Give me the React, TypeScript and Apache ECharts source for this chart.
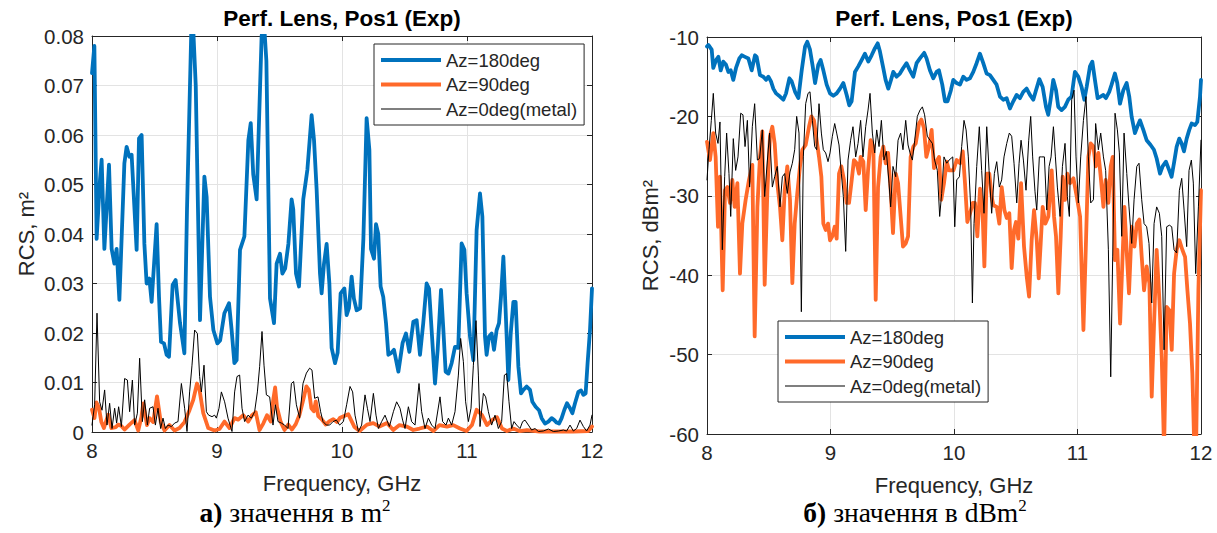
import React, { useEffect, useRef } from "react";
import * as echarts from "echarts";

const NAMES = ["Az=180deg", "Az=90deg", "Az=0deg(metal)"];
const COLORS = ["#0072BD", "#FF6A2A", "#000000"];
const WIDTHS = [3.8, 3.8, 1];
const LEGEND_ICONS = ["path://M0,0H60V4H0Z", "path://M0,0H60V4H0Z", "path://M0,0H60V1H0Z"];

const TITLE = "Perf. Lens, Pos1 (Exp)";
const X_NAME = "Frequency, GHz";
const Y_NAME_LIN = "RCS, m²";
const Y_NAME_DB = "RCS, dBm²";

// ---- linear (m^2) ----
const linBlue: [number, number][] = [
  [8.000,0.0725],[8.019,0.078],[8.037,0.039],[8.064,0.051],[8.077,0.055],[8.099,0.037],[8.136,0.054],[8.157,0.037],[8.179,0.034],[8.197,0.037],[8.219,0.0267],[8.259,0.0543],[8.277,0.0576],[8.299,0.0556],[8.317,0.056],[8.357,0.0368],[8.376,0.0593],[8.397,0.060],[8.419,0.038],[8.437,0.030],[8.459,0.031],[8.477,0.0263],[8.517,0.042],[8.536,0.0273],[8.552,0.0182],[8.576,0.0179],[8.597,0.0156],[8.616,0.0152],[8.645,0.0297],[8.669,0.0307],[8.704,0.022],[8.739,0.0159],[8.760,0.045],[8.800,0.087],[8.830,0.070],[8.864,0.0226],[8.899,0.0516],[8.917,0.0475],[8.944,0.0273],[8.971,0.0206],[9.003,0.0179],[9.025,0.0185],[9.059,0.024],[9.096,0.026],[9.117,0.0206],[9.139,0.0139],[9.157,0.0145],[9.184,0.0368],[9.219,0.0395],[9.251,0.059],[9.270,0.0624],[9.290,0.052],[9.317,0.047],[9.357,0.080],[9.375,0.083],[9.395,0.075],[9.424,0.027],[9.456,0.022],[9.477,0.034],[9.504,0.036],[9.523,0.032],[9.545,0.033],[9.571,0.038],[9.597,0.047],[9.610,0.045],[9.632,0.032],[9.656,0.0294],[9.690,0.047],[9.723,0.053],[9.757,0.064],[9.776,0.059],[9.797,0.049],[9.824,0.032],[9.837,0.028],[9.856,0.034],[9.877,0.038],[9.899,0.030],[9.917,0.017],[9.944,0.0139],[9.965,0.016],[9.989,0.028],[10.019,0.029],[10.037,0.0236],[10.055,0.025],[10.077,0.0314],[10.095,0.027],[10.117,0.0246],[10.145,0.025],[10.171,0.039],[10.197,0.0634],[10.219,0.057],[10.232,0.037],[10.256,0.035],[10.272,0.042],[10.290,0.040],[10.309,0.0294],[10.330,0.0273],[10.352,0.022],[10.371,0.0156],[10.395,0.016],[10.416,0.0166],[10.451,0.0122],[10.485,0.018],[10.512,0.0199],[10.539,0.0162],[10.571,0.0223],[10.597,0.0226],[10.624,0.0156],[10.650,0.022],[10.677,0.030],[10.696,0.029],[10.717,0.0206],[10.744,0.0098],[10.765,0.0165],[10.792,0.0287],[10.811,0.0206],[10.829,0.0122],[10.851,0.0118],[10.877,0.0139],[10.904,0.0172],[10.930,0.017],[10.957,0.0381],[10.979,0.0368],[10.997,0.028],[11.024,0.0193],[11.051,0.0145],[11.077,0.0408],[11.104,0.0482],[11.123,0.0435],[11.144,0.0193],[11.157,0.0156],[11.176,0.0193],[11.197,0.0199],[11.216,0.0166],[11.237,0.0206],[11.256,0.022],[11.272,0.0273],[11.291,0.0354],[11.309,0.0246],[11.331,0.0105],[11.350,0.020],[11.371,0.0263],[11.389,0.0263],[11.411,0.0132],[11.432,0.0078],[11.451,0.0085],[11.477,0.0092],[11.504,0.0085],[11.523,0.0061],[11.549,0.0051],[11.576,0.0044],[11.597,0.0028],[11.624,0.0017],[11.651,0.0021],[11.677,0.0028],[11.698,0.0024],[11.717,0.0019],[11.736,0.0017],[11.757,0.0028],[11.779,0.0045],[11.800,0.0058],[11.824,0.0048],[11.843,0.0038],[11.864,0.0058],[11.891,0.0081],[11.912,0.0084],[11.931,0.0075],[11.949,0.0078],[11.965,0.014],[11.984,0.0206],[12.000,0.029]
];

const linOrange: [number, number][] = [
  [8.00,0.0045],[8.02,0.0028],[8.035,0.006],[8.055,0.005],[8.075,0.002],[8.095,0.0008],[8.13,0.0035],[8.155,0.0008],[8.19,0.001],[8.21,0.0015],[8.235,0.0012],[8.26,0.0005],[8.30,0.0015],[8.34,0.0024],[8.37,0.0003],[8.395,0.003],[8.41,0.0058],[8.44,0.0014],[8.46,0.0028],[8.49,0.002],[8.52,0.0072],[8.55,0.002],[8.58,0.0003],[8.62,0.0014],[8.66,0.0003],[8.70,0.0008],[8.74,0.002],[8.78,0.0044],[8.81,0.0065],[8.84,0.0098],[8.86,0.0085],[8.89,0.0038],[8.93,0.0008],[8.98,0.0003],[9.02,0.0006],[9.06,0.0021],[9.10,0.0008],[9.14,0.0028],[9.17,0.0025],[9.21,0.0034],[9.25,0.0021],[9.28,0.0034],[9.31,0.004],[9.34,0.0004],[9.37,0.0017],[9.40,0.0034],[9.43,0.0021],[9.45,0.0065],[9.465,0.009],[9.48,0.005],[9.51,0.002],[9.54,0.0004],[9.57,0.0015],[9.60,0.0005],[9.63,0.0016],[9.66,0.0035],[9.69,0.0065],[9.715,0.0092],[9.735,0.0085],[9.755,0.0048],[9.775,0.0042],[9.79,0.0062],[9.81,0.0032],[9.84,0.0025],[9.87,0.0015],[9.90,0.0022],[9.93,0.0026],[9.96,0.002],[9.985,0.0029],[10.05,0.0036],[10.10,0.001],[10.14,0.0002],[10.20,0.0015],[10.25,0.0018],[10.30,0.0011],[10.36,0.0018],[10.41,0.0004],[10.46,0.0014],[10.52,0.0011],[10.57,0.0004],[10.62,0.0007],[10.68,0.0011],[10.73,0.0002],[10.78,0.0014],[10.84,0.0011],[10.89,0.0014],[10.944,0.0007],[10.996,0.0002],[11.04,0.0014],[11.077,0.0045],[11.12,0.0034],[11.16,0.0014],[11.20,0.0024],[11.24,0.003],[11.28,0.0007],[11.32,0.0002],[11.37,0.0007],[11.42,0.0002],[11.48,0.0004],[11.58,0.0001],[11.72,0.0001],[11.85,0.0001],[11.97,0.0002],[12.0,0.0011]
];

const linBlack: [number, number][] = [
  [8.000,0.0014],[8.021,0.0055],[8.040,0.024],[8.061,0.0061],[8.080,0.0044],[8.101,0.0085],[8.120,0.0014],[8.141,0.0058],[8.160,0.0007],[8.181,0.0048],[8.197,0.0018],[8.213,0.0051],[8.235,0.0011],[8.261,0.0108],[8.283,0.0105],[8.301,0.0041],[8.323,0.0105],[8.341,0.0014],[8.363,0.0038],[8.381,0.0149],[8.403,0.0021],[8.421,0.0065],[8.443,0.0014],[8.461,0.0048],[8.488,0.0051],[8.507,0.0014],[8.528,0.0048],[8.549,0.0007],[8.568,0.0028],[8.587,0.0007],[8.608,0.0014],[8.635,0.0011],[8.661,0.0018],[8.688,0.0021],[8.715,0.0098],[8.741,0.0048],[8.760,0.0001],[8.781,0.0081],[8.800,0.0135],[8.821,0.0206],[8.843,0.0199],[8.861,0.0112],[8.875,0.0081],[8.896,0.0135],[8.915,0.0041],[8.933,0.0034],[8.960,0.0031],[8.981,0.0034],[8.995,0.0028],[9.016,0.0048],[9.035,0.0081],[9.061,0.0061],[9.088,0.0028],[9.120,0.0001],[9.141,0.0081],[9.160,0.0112],[9.181,0.0115],[9.200,0.0048],[9.221,0.0021],[9.248,0.0034],[9.275,0.0028],[9.301,0.0041],[9.323,0.0081],[9.341,0.0132],[9.360,0.0203],[9.376,0.0135],[9.395,0.0075],[9.421,0.0071],[9.448,0.0014],[9.467,0.0055],[9.488,0.0021],[9.515,0.0018],[9.541,0.0014],[9.568,0.0007],[9.595,0.0098],[9.613,0.0102],[9.635,0.0055],[9.661,0.0028],[9.688,0.0098],[9.715,0.0119],[9.741,0.0129],[9.760,0.0125],[9.781,0.0068],[9.808,0.0071],[9.829,0.0041],[9.848,0.0021],[9.875,0.0014],[9.901,0.0014],[9.928,0.0021],[9.955,0.0024],[9.981,0.0014],[10.011,0.0021],[10.037,0.0055],[10.064,0.0092],[10.085,0.0081],[10.104,0.0034],[10.131,0.0001],[10.157,0.0014],[10.184,0.0075],[10.203,0.0048],[10.224,0.0021],[10.251,0.0078],[10.272,0.0034],[10.291,0.0007],[10.317,0.0021],[10.344,0.0034],[10.379,0.0011],[10.411,0.0041],[10.437,0.0061],[10.464,0.0048],[10.485,0.0024],[10.504,0.0007],[10.531,0.0051],[10.557,0.0021],[10.584,0.0014],[10.616,0.0098],[10.637,0.0041],[10.664,0.0007],[10.691,0.0028],[10.717,0.0014],[10.744,0.0007],[10.784,0.0071],[10.805,0.0021],[10.832,0.0014],[10.851,0.0028],[10.877,0.0014],[10.904,0.0041],[10.931,0.0115],[10.949,0.0189],[10.971,0.0142],[10.989,0.0061],[11.011,0.0021],[11.032,0.0048],[11.051,0.0135],[11.072,0.0225],[11.091,0.0115],[11.104,0.0011],[11.131,0.0078],[11.149,0.0071],[11.171,0.0041],[11.197,0.0014],[11.224,0.0034],[11.251,0.0007],[11.277,0.0021],[11.299,0.0115],[11.317,0.0118],[11.336,0.0061],[11.357,0.0007],[11.376,0.0021],[11.397,0.0014],[11.424,0.0007],[11.445,0.0021],[11.464,0.0024],[11.491,0.0014],[11.517,0.0004],[11.544,0.0007],[11.571,0.0001],[11.611,0.0002],[11.651,0.0006],[11.691,0.0001],[11.731,0.0002],[11.771,0.0004],[11.797,0.0002],[11.824,0.0014],[11.851,0.0002],[11.877,0.0007],[11.904,0.0024],[11.931,0.0011],[11.957,0.0002],[11.984,0.0014],[12.000,0.0034]
];

// ---- dB (dBm^2) ----
const dbBlue: [number, number][] = [
  [8.000,-11.2],[8.011,-11.0],[8.038,-11.6],[8.051,-13.9],[8.073,-12.9],[8.092,-12.5],[8.111,-14.2],[8.132,-13.1],[8.154,-13.5],[8.173,-14.4],[8.192,-14.2],[8.213,-15.4],[8.235,-13.9],[8.262,-12.7],[8.281,-12.3],[8.308,-12.5],[8.335,-12.7],[8.362,-14.2],[8.389,-12.3],[8.402,-12.5],[8.429,-14.8],[8.456,-15.0],[8.478,-15.4],[8.497,-15.0],[8.518,-15.6],[8.537,-16.5],[8.559,-17.1],[8.591,-17.5],[8.618,-17.9],[8.640,-17.1],[8.667,-15.2],[8.686,-15.6],[8.713,-16.9],[8.740,-17.7],[8.767,-14.2],[8.794,-11.2],[8.812,-10.6],[8.834,-11.6],[8.856,-13.7],[8.875,-15.8],[8.901,-13.5],[8.920,-12.9],[8.942,-14.2],[8.969,-16.0],[8.996,-17.1],[9.023,-17.4],[9.050,-17.1],[9.077,-16.5],[9.104,-15.8],[9.131,-17.3],[9.152,-18.6],[9.171,-18.1],[9.198,-14.4],[9.225,-13.7],[9.252,-12.9],[9.279,-12.1],[9.306,-13.1],[9.333,-12.3],[9.360,-11.4],[9.382,-10.8],[9.400,-11.8],[9.427,-13.9],[9.446,-15.4],[9.468,-16.5],[9.490,-15.4],[9.508,-14.4],[9.535,-15.0],[9.562,-14.6],[9.589,-13.9],[9.616,-13.3],[9.643,-14.2],[9.670,-15.0],[9.697,-13.3],[9.724,-12.7],[9.759,-12.0],[9.778,-12.7],[9.805,-14.2],[9.832,-15.2],[9.859,-14.4],[9.878,-14.2],[9.905,-16.0],[9.927,-18.1],[9.948,-18.1],[9.975,-16.7],[9.994,-15.4],[10.021,-15.8],[10.048,-16.0],[10.075,-15.0],[10.102,-15.4],[10.129,-15.2],[10.156,-14.4],[10.183,-13.3],[10.210,-12.1],[10.237,-13.3],[10.264,-14.6],[10.291,-14.8],[10.318,-15.4],[10.345,-16.0],[10.372,-17.5],[10.399,-17.9],[10.426,-17.7],[10.453,-19.0],[10.480,-18.1],[10.507,-17.3],[10.534,-17.7],[10.561,-16.9],[10.588,-16.5],[10.615,-17.3],[10.642,-17.9],[10.664,-16.7],[10.691,-15.3],[10.718,-16.3],[10.745,-18.8],[10.763,-19.8],[10.782,-17.9],[10.804,-15.4],[10.826,-16.7],[10.844,-18.8],[10.871,-19.2],[10.898,-18.8],[10.925,-17.9],[10.952,-17.5],[10.979,-14.4],[11.006,-15.0],[11.033,-16.3],[11.055,-17.9],[11.074,-16.3],[11.101,-13.7],[11.120,-13.1],[11.141,-15.4],[11.163,-17.7],[11.187,-17.5],[11.209,-17.3],[11.230,-17.7],[11.257,-16.9],[11.276,-16.0],[11.303,-14.6],[11.322,-15.8],[11.344,-18.4],[11.371,-16.7],[11.398,-15.8],[11.419,-17.5],[11.438,-20.0],[11.465,-22.1],[11.484,-21.3],[11.506,-20.5],[11.533,-21.7],[11.560,-23.0],[11.592,-23.6],[11.619,-24.2],[11.641,-25.3],[11.668,-27.2],[11.689,-26.3],[11.716,-25.7],[11.743,-26.8],[11.762,-27.6],[11.781,-25.9],[11.803,-23.8],[11.824,-22.8],[11.843,-23.4],[11.862,-24.4],[11.884,-22.8],[11.905,-21.7],[11.924,-20.9],[11.951,-21.1],[11.970,-20.7],[11.992,-17.5],[12.000,-15.4]
];

const dbOrange: [number, number][] = [
  [8.000,-23.2],[8.024,-25.5],[8.051,-22.1],[8.070,-25.1],[8.089,-33.9],[8.105,-27.6],[8.127,-41.9],[8.146,-29.3],[8.165,-28.9],[8.186,-30.9],[8.205,-28.0],[8.224,-31.4],[8.246,-28.4],[8.267,-39.8],[8.286,-33.5],[8.313,-30.5],[8.340,-28.0],[8.367,-26.1],[8.386,-47.7],[8.408,-31.4],[8.429,-25.1],[8.448,-21.9],[8.467,-41.2],[8.489,-29.3],[8.510,-22.5],[8.529,-21.3],[8.548,-23.4],[8.569,-28.4],[8.591,-31.4],[8.610,-35.6],[8.629,-29.3],[8.650,-26.3],[8.672,-30.5],[8.691,-41.0],[8.710,-33.5],[8.731,-29.7],[8.753,-26.3],[8.772,-24.2],[8.799,-23.6],[8.826,-21.3],[8.845,-20.0],[8.866,-20.5],[8.888,-23.0],[8.907,-25.1],[8.926,-27.6],[8.942,-33.5],[8.961,-34.3],[8.980,-33.5],[8.996,-35.6],[9.015,-35.1],[9.034,-33.9],[9.050,-35.4],[9.069,-27.2],[9.088,-26.3],[9.109,-28.0],[9.131,-30.9],[9.150,-30.9],[9.169,-28.4],[9.190,-25.5],[9.212,-25.9],[9.231,-27.2],[9.244,-25.1],[9.266,-25.7],[9.285,-31.8],[9.304,-26.8],[9.325,-23.0],[9.347,-23.8],[9.366,-43.1],[9.385,-28.9],[9.406,-25.1],[9.428,-23.8],[9.447,-25.9],[9.466,-24.6],[9.487,-29.3],[9.506,-34.7],[9.528,-27.2],[9.547,-28.4],[9.568,-32.6],[9.587,-36.4],[9.609,-36.0],[9.628,-35.1],[9.649,-25.1],[9.671,-23.8],[9.690,-23.4],[9.717,-20.9],[9.736,-20.4],[9.757,-21.5],[9.776,-25.1],[9.798,-23.8],[9.819,-21.7],[9.838,-26.5],[9.857,-25.7],[9.879,-25.1],[9.897,-30.5],[9.919,-28.4],[9.941,-25.7],[9.960,-26.8],[9.995,-26.8],[10.022,-25.5],[10.049,-25.9],[10.071,-24.4],[10.089,-28.4],[10.108,-33.3],[10.130,-32.2],[10.152,-30.9],[10.170,-30.9],[10.189,-35.1],[10.211,-29.1],[10.230,-31.4],[10.246,-38.9],[10.265,-27.2],[10.286,-27.2],[10.305,-30.1],[10.319,-31.2],[10.346,-31.4],[10.367,-33.5],[10.386,-28.9],[10.408,-31.8],[10.427,-32.8],[10.448,-32.2],[10.467,-39.1],[10.486,-34.3],[10.502,-33.3],[10.521,-35.4],[10.543,-28.4],[10.567,-36.4],[10.589,-40.2],[10.608,-42.7],[10.629,-35.6],[10.648,-31.8],[10.670,-35.6],[10.686,-40.4],[10.702,-36.0],[10.718,-31.4],[10.740,-33.5],[10.764,-32.6],[10.791,-26.8],[10.810,-32.6],[10.826,-35.1],[10.845,-42.3],[10.864,-35.1],[10.880,-27.6],[10.899,-30.5],[10.918,-27.2],[10.940,-28.4],[10.967,-27.8],[10.994,-30.1],[11.021,-32.6],[11.048,-46.9],[11.069,-35.6],[11.088,-25.1],[11.107,-23.4],[11.129,-23.8],[11.148,-26.3],[11.169,-24.6],[11.188,-27.6],[11.210,-31.4],[11.228,-28.0],[11.250,-30.9],[11.269,-26.3],[11.285,-25.1],[11.304,-38.1],[11.323,-36.8],[11.345,-46.1],[11.363,-38.5],[11.380,-31.4],[11.399,-37.2],[11.417,-42.3],[11.439,-33.9],[11.461,-36.4],[11.480,-33.5],[11.501,-33.0],[11.520,-37.7],[11.539,-41.9],[11.560,-38.9],[11.582,-41.0],[11.601,-55.3],[11.620,-46.1],[11.641,-36.8],[11.663,-43.1],[11.682,-50.3],[11.701,-62.0],[11.722,-44.0],[11.744,-44.4],[11.763,-49.4],[11.782,-39.8],[11.803,-36.8],[11.825,-35.6],[11.849,-36.8],[11.871,-37.7],[11.890,-41.9],[11.911,-46.1],[11.930,-52.4],[11.946,-62.0],[11.960,-62.0],[11.979,-41.9],[12.000,-29.3]
];

const dbBlack: [number, number][] = [
  [8.000,-28.0],[8.016,-24.2],[8.035,-20.5],[8.051,-17.1],[8.070,-22.1],[8.089,-23.4],[8.105,-20.7],[8.124,-36.8],[8.143,-27.6],[8.159,-22.1],[8.178,-27.2],[8.192,-32.6],[8.213,-22.8],[8.232,-26.8],[8.251,-25.1],[8.273,-19.6],[8.291,-19.8],[8.308,-23.8],[8.327,-20.5],[8.345,-28.9],[8.367,-21.3],[8.386,-18.4],[8.408,-25.5],[8.426,-25.3],[8.448,-21.7],[8.467,-30.1],[8.489,-25.5],[8.507,-22.1],[8.529,-28.9],[8.548,-27.6],[8.569,-26.3],[8.591,-31.4],[8.610,-27.6],[8.629,-27.2],[8.650,-29.7],[8.672,-27.0],[8.691,-25.9],[8.710,-24.2],[8.726,-20.0],[8.745,-22.1],[8.764,-44.6],[8.780,-25.1],[8.799,-18.4],[8.818,-17.1],[8.834,-16.9],[8.853,-20.5],[8.872,-23.8],[8.888,-24.2],[8.907,-18.4],[8.926,-22.1],[8.942,-24.2],[8.961,-24.6],[8.980,-25.7],[8.996,-24.6],[9.015,-22.5],[9.034,-20.9],[9.050,-22.1],[9.069,-23.6],[9.088,-27.2],[9.104,-30.1],[9.123,-37.0],[9.142,-25.5],[9.163,-23.0],[9.182,-21.3],[9.204,-25.1],[9.223,-23.4],[9.244,-20.5],[9.263,-25.1],[9.285,-21.3],[9.304,-19.2],[9.320,-17.1],[9.339,-22.1],[9.358,-24.6],[9.374,-21.7],[9.393,-23.8],[9.412,-20.5],[9.433,-25.5],[9.452,-24.4],[9.474,-28.4],[9.487,-31.4],[9.506,-26.3],[9.528,-27.6],[9.547,-23.0],[9.568,-22.1],[9.587,-24.2],[9.609,-20.5],[9.628,-23.6],[9.644,-24.6],[9.663,-25.5],[9.682,-23.0],[9.703,-20.0],[9.725,-19.2],[9.744,-18.8],[9.762,-19.8],[9.784,-22.5],[9.806,-23.0],[9.825,-23.4],[9.843,-25.5],[9.865,-26.8],[9.884,-32.6],[9.900,-29.7],[9.919,-25.1],[9.941,-25.9],[9.960,-25.5],[9.990,-25.1],[10.006,-33.9],[10.022,-28.0],[10.044,-27.6],[10.062,-23.8],[10.081,-20.5],[10.098,-21.7],[10.116,-25.1],[10.135,-31.4],[10.149,-43.5],[10.162,-33.5],[10.184,-26.3],[10.205,-21.3],[10.224,-26.8],[10.243,-32.2],[10.265,-21.3],[10.284,-26.8],[10.305,-32.2],[10.327,-27.2],[10.346,-25.7],[10.367,-28.9],[10.386,-28.0],[10.405,-25.1],[10.427,-23.4],[10.448,-22.1],[10.467,-22.5],[10.486,-25.9],[10.508,-30.9],[10.527,-25.9],[10.543,-23.0],[10.562,-25.5],[10.583,-29.3],[10.605,-23.0],[10.621,-20.0],[10.637,-25.1],[10.656,-29.5],[10.670,-31.8],[10.691,-25.1],[10.710,-25.1],[10.732,-25.1],[10.751,-31.8],[10.770,-26.3],[10.786,-25.1],[10.805,-21.3],[10.821,-25.1],[10.837,-28.9],[10.859,-32.6],[10.878,-26.3],[10.899,-23.4],[10.918,-30.1],[10.934,-32.6],[10.953,-17.9],[10.972,-16.7],[10.988,-25.1],[11.007,-30.9],[11.026,-25.1],[11.048,-20.5],[11.069,-17.5],[11.088,-25.1],[11.107,-30.9],[11.129,-30.5],[11.147,-20.9],[11.169,-24.2],[11.188,-22.1],[11.210,-25.1],[11.228,-26.8],[11.250,-36.8],[11.269,-52.8],[11.285,-37.7],[11.304,-19.6],[11.323,-21.7],[11.339,-24.6],[11.358,-35.1],[11.377,-22.1],[11.399,-27.2],[11.417,-31.4],[11.439,-36.0],[11.458,-30.5],[11.480,-26.3],[11.498,-25.9],[11.520,-30.5],[11.539,-33.5],[11.560,-33.9],[11.579,-36.0],[11.601,-43.5],[11.620,-33.5],[11.641,-31.4],[11.663,-32.2],[11.682,-35.1],[11.701,-49.4],[11.722,-33.9],[11.744,-33.7],[11.763,-33.9],[11.782,-36.8],[11.803,-37.2],[11.825,-29.3],[11.844,-27.8],[11.863,-31.8],[11.884,-36.4],[11.903,-26.8],[11.922,-25.5],[11.938,-28.4],[11.957,-39.8],[11.979,-31.4],[12.000,-23.0]
];

const SANS = "'Liberation Sans', Arial, Helvetica, sans-serif";
const SERIF = "'Liberation Serif', 'Times New Roman', serif";
const AX = "#262626";
const GRIDC = "#e3e3e3";
const TICK_FS = 20.5;
const NAME_FS = 22;
const TITLE_FS = 22.5;
const LEGEND_FS = 18.5;
const CAP_FS = 27.5;

function xAxes(gridIndex: number, withName: boolean) {
  const base = {
    gridIndex,
    type: "value",
    min: 8,
    max: 12,
    interval: 1,
    axisLine: { show: true, onZero: false, lineStyle: { color: AX, width: 1 } },
    axisTick: { show: true, inside: true, length: 5, lineStyle: { color: AX, width: 1 } },
  };
  return [
    {
      ...base,
      position: "bottom",
      axisLabel: { color: AX, fontSize: TICK_FS, fontFamily: SANS, margin: 8 },
      splitLine: { show: true, lineStyle: { color: GRIDC, width: 1 } },
      name: withName ? X_NAME : "",
      nameLocation: "middle",
      nameGap: 40,
      nameTextStyle: { color: AX, fontSize: NAME_FS, fontFamily: SANS },
    },
    {
      ...base,
      position: "top",
      axisLabel: { show: false },
      splitLine: { show: false },
    },
  ];
}

function yAxes(gridIndex: number, min: number, max: number, interval: number, name: string, gap: number, fmt: (v: number) => string) {
  const base = {
    gridIndex,
    type: "value",
    min,
    max,
    interval,
    axisLine: { show: true, onZero: false, lineStyle: { color: AX, width: 1 } },
    axisTick: { show: true, inside: true, length: 5, lineStyle: { color: AX, width: 1 } },
  };
  return [
    {
      ...base,
      position: "left",
      axisLabel: { color: AX, fontSize: TICK_FS, fontFamily: SANS, margin: 8, formatter: fmt },
      splitLine: { show: true, lineStyle: { color: GRIDC, width: 1 } },
      name,
      nameLocation: "middle",
      nameGap: gap,
      nameTextStyle: { color: AX, fontSize: NAME_FS, fontFamily: SANS },
    },
    {
      ...base,
      position: "right",
      axisLabel: { show: false },
      splitLine: { show: false },
    },
  ];
}

function lineSeries(data: [number, number][], idx: number, xi: number, yi: number) {
  return {
    type: "line",
    name: NAMES[idx],
    data,
    xAxisIndex: xi,
    yAxisIndex: yi,
    symbol: "none",
    showSymbol: false,
    clip: true,
    color: COLORS[idx],
    lineStyle: { color: COLORS[idx], width: WIDTHS[idx], join: "round", cap: "round" },
    emphasis: { disabled: true },
    z: 2 + idx,
  };
}

function legendAt(left: number, top: number) {
  return {
    data: NAMES.map((n, i) => ({ name: n, icon: LEGEND_ICONS[i] })),
    orient: "vertical",
    left,
    top,
    itemWidth: 60,
    itemHeight: 14,
    itemGap: 4.5,
    symbolKeepAspect: true,
    padding: [6, 7, 6, 7],
    backgroundColor: "#ffffff",
    borderColor: AX,
    borderWidth: 1,
    borderRadius: 0,
    selectedMode: false,
    itemStyle: { borderWidth: 0 },
    textStyle: { color: AX, fontSize: LEGEND_FS, fontFamily: SANS, lineHeight: 20 },
    z: 10,
  };
}

function caption(x: number, label: string, rest: string) {
  return {
    type: "text",
    x,
    y: 512,
    style: {
      text: `{b|${label}}{r| ${rest}}{s|2}`,
      align: "center",
      verticalAlign: "middle",
      fill: "#000",
      rich: {
        b: { fontFamily: SERIF, fontSize: CAP_FS, fontWeight: "bold", fill: "#000", lineHeight: 30 },
        r: { fontFamily: SERIF, fontSize: CAP_FS, fill: "#000", lineHeight: 30 },
        s: { fontFamily: SERIF, fontSize: 17, fill: "#000", verticalAlign: "top", lineHeight: 30 },
      },
    },
  };
}

function titleAt(x: number) {
  return {
    type: "text",
    x,
    y: 18,
    style: { text: TITLE, fill: "#000", fontSize: TITLE_FS, fontWeight: "bold", fontFamily: SANS, align: "center", verticalAlign: "middle" },
  };
}

export default function App() {
  const ref = useRef<HTMLDivElement>(null);
  useEffect(() => {
    if (!ref.current) return;
    const chart = echarts.init(ref.current, undefined, { renderer: "svg" });
    const option: any = {
      animation: false,
      backgroundColor: "#ffffff",
      grid: [
        { left: 92, top: 36, width: 500, height: 396, containLabel: false },
        { left: 707, top: 37, width: 494, height: 397, containLabel: false },
      ],
      xAxis: [...xAxes(0, true), ...xAxes(1, true)],
      yAxis: [
        ...yAxes(0, 0, 0.08, 0.01, Y_NAME_LIN, 55, (v: number) => (v === 0 ? "0" : v.toFixed(2))),
        ...yAxes(1, -60, -10, 10, Y_NAME_DB, 46, (v: number) => String(Math.round(v))),
      ],
      legend: [legendAt(374, 44), legendAt(778, 321)],
      series: [
        lineSeries(linBlue, 0, 0, 0),
        lineSeries(linOrange, 1, 0, 0),
        lineSeries(linBlack, 2, 0, 0),
        lineSeries(dbBlue, 0, 2, 2),
        lineSeries(dbOrange, 1, 2, 2),
        lineSeries(dbBlack, 2, 2, 2),
      ],
      graphic: [
        titleAt(342),
        titleAt(954),
        caption(295, "а)", "значення в m"),
        caption(915, "б)", "значення в dBm"),
      ],
    };
    chart.setOption(option);
    return () => chart.dispose();
  }, []);
  return (
    <div
      ref={ref}
      style={{ position: "absolute", left: 0, top: 0, width: 1217, height: 533, background: "#fff" }}
    />
  );
}
